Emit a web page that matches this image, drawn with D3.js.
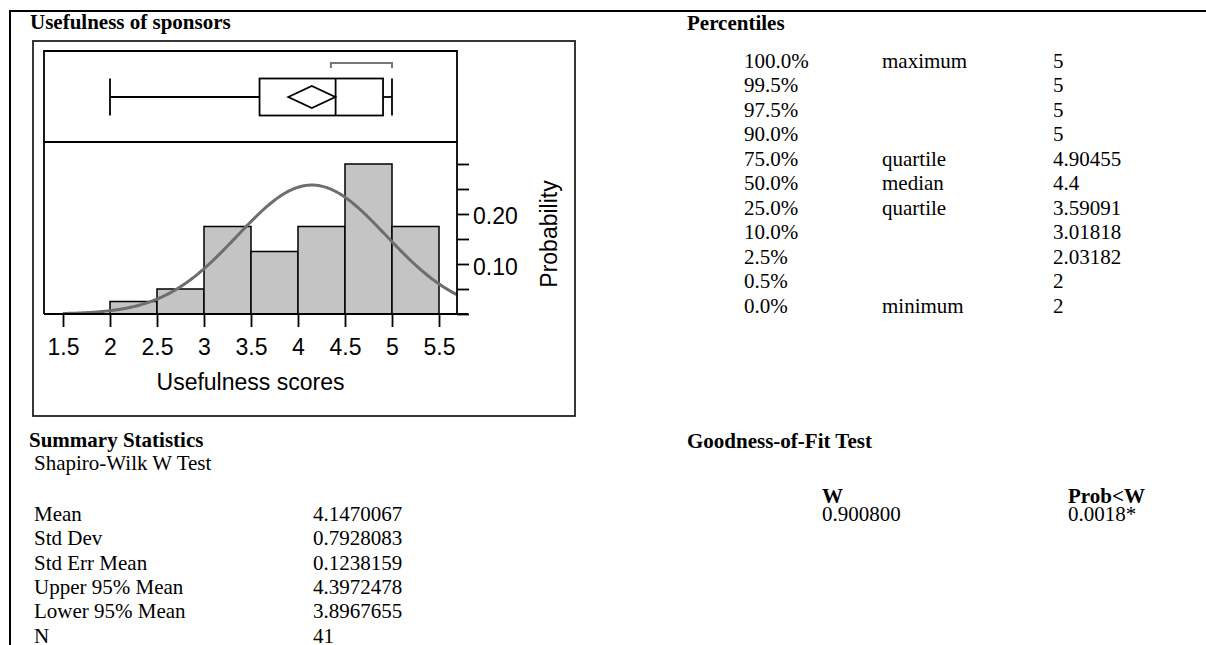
<!DOCTYPE html>
<html>
<head>
<meta charset="utf-8">
<script src="https://cdnjs.cloudflare.com/ajax/libs/d3/7.8.5/d3.min.js"></script>
<style>
  body { margin: 0; background: #fff; }
  .serif { font-family: "Liberation Serif", "Times New Roman", serif; font-size: 21px; fill: #000; }
  .bold { font-weight: bold; }
  .sans { font-family: "Liberation Sans", Arial, sans-serif; font-size: 23px; fill: #000; }
</style>
</head>
<body>
<script>
// histogram bins (lower edges) and counts
var binEdges = [2, 2.5, 3, 3.5, 4, 4.5, 5];
var binWidth = 0.5;
var counts = [1, 2, 7, 5, 7, 12, 7];
var n = 41;

// box plot summary
var whiskerLo = 2, whiskerHi = 5;
var q1 = 3.59091, median = 4.4, q3 = 4.90455;
var mean = 4.1470067, sd = 0.7928083;
var ciLo = 3.8967655, ciHi = 4.3972478;
var shortestHalf = [4.35, 5];

// axis ticks
var xTicks = [1.5, 2, 2.5, 3, 3.5, 4, 4.5, 5, 5.5];
var countTicks = [0, 2, 4, 6, 8, 10, 12];
var probLabels = [0.10, 0.20];

// tables
var pctLevels = ["100.0%", "99.5%", "97.5%", "90.0%", "75.0%", "50.0%", "25.0%", "10.0%", "2.5%", "0.5%", "0.0%"];
var pctNames = ["maximum", "", "", "", "quartile", "median", "quartile", "", "", "", "minimum"];
var pctValues = ["5", "5", "5", "5", "4.90455", "4.4", "3.59091", "3.01818", "2.03182", "2", "2"];
var statNames = ["Mean", "Std Dev", "Std Err Mean", "Upper 95% Mean", "Lower 95% Mean", "N"];
var statValues = ["4.1470067", "0.7928083", "0.1238159", "4.3972478", "3.8967655", "41"];
var gofHeaders = ["W", "Prob<W"];
var gofValues = ["0.900800", "0.0018*"];

var width = 1206, height = 645;

var svg = d3.select("body").append("svg")
  .attr("width", width)
  .attr("height", height);

// page rules
svg.append("line").attr("x1", 10).attr("x2", width).attr("y1", 11).attr("y2", 11)
  .attr("stroke", "#000").attr("stroke-width", 2);
svg.append("line").attr("x1", 10).attr("x2", 10).attr("y1", 10).attr("y2", height)
  .attr("stroke", "#000").attr("stroke-width", 2);

// plot geometry
var pLeft = 44, pRight = 457, pTop = 51, pMid = 142, pBottom = 314;

var x = d3.scaleLinear().domain([2, 5.5]).range([110, 439]);
var y = d3.scaleLinear().domain([0, 12 / n]).range([pBottom, 164]);

svg.append("text").attr("class", "serif bold").attr("x", 30).attr("y", 29).text("Usefulness of sponsors");

// outer frame
svg.append("rect").attr("x", 33).attr("y", 41).attr("width", 542).attr("height", 375)
  .attr("fill", "none").attr("stroke", "#222").attr("stroke-width", 1.8);

// histogram bars
svg.append("g").selectAll("rect")
  .data(binEdges)
  .enter().append("rect")
  .attr("x", function (d) { return x(d); })
  .attr("width", function (d) { return x(d + binWidth) - x(d); })
  .attr("y", function (d, i) { return y(counts[i] / n); })
  .attr("height", function (d, i) { return pBottom - y(counts[i] / n); })
  .attr("fill", "#c4c4c4")
  .attr("stroke", "#000")
  .attr("stroke-width", 1.5);

// fitted normal curve
var xs = d3.range(1.5, 5.69, 0.01);
var line = d3.line()
  .x(function (d) { return x(d); })
  .y(function (d) {
    var z = (d - mean) / sd;
    return y(binWidth * Math.exp(-0.5 * z * z) / (sd * Math.sqrt(2 * Math.PI)));
  });
svg.append("path").datum(xs)
  .attr("d", line)
  .attr("fill", "none")
  .attr("stroke", "#6e6e6e")
  .attr("stroke-width", 3);

// inner frame
svg.append("path")
  .attr("d", "M" + pLeft + "," + pBottom + "V" + pTop + "H" + pRight + "V" + pBottom)
  .attr("fill", "none").attr("stroke", "#000").attr("stroke-width", 1.8);
svg.append("line").attr("x1", pLeft).attr("x2", pRight).attr("y1", pMid).attr("y2", pMid)
  .attr("stroke", "#000").attr("stroke-width", 1.8);

// x axis
var xAxis = svg.append("g")
  .attr("transform", "translate(0," + pBottom + ")")
  .call(d3.axisBottom(x).tickValues(xTicks).tickSize(13).tickPadding(12)
    .tickFormat(function (d) { return String(d); }));
xAxis.select(".domain").remove();
xAxis.selectAll(".tick line").attr("stroke", "#000").attr("stroke-width", 1.8);
xAxis.selectAll(".tick text").attr("class", "sans").attr("font-family", null).attr("font-size", null)
  .attr("dy", "0.71em");
svg.append("line").attr("x1", pLeft).attr("x2", pRight + 11).attr("y1", pBottom).attr("y2", pBottom)
  .attr("stroke", "#000").attr("stroke-width", 1.8);

svg.append("text").attr("class", "sans").attr("x", (pLeft + pRight) / 2).attr("y", 390)
  .attr("text-anchor", "middle").text("Usefulness scores");

// y axis ticks (every 2 counts) and probability labels
var yAxis = svg.append("g")
  .attr("transform", "translate(" + pRight + ",0)")
  .call(d3.axisRight(y).tickValues(countTicks.map(function (c) { return c / n; }))
    .tickSize(12).tickFormat(""));
yAxis.select(".domain").remove();
yAxis.selectAll(".tick line").attr("stroke", "#000").attr("stroke-width", 1.8);

var yLab = svg.append("g")
  .attr("transform", "translate(" + pRight + ",0)")
  .call(d3.axisRight(y).tickValues(probLabels).tickSize(0).tickPadding(16)
    .tickFormat(d3.format(".2f")));
yLab.select(".domain").remove();
yLab.selectAll(".tick text").attr("class", "sans").attr("font-family", null).attr("font-size", null)
  .attr("dy", "0.5em");

svg.append("text").attr("class", "sans")
  .attr("transform", "translate(557," + 234 + ") rotate(-90)")
  .attr("text-anchor", "middle").text("Probability");

// box plot
var by = 97, bh = 18.5;
var box = svg.append("g").attr("stroke", "#000").attr("stroke-width", 1.8).attr("fill", "none");
box.append("line").attr("x1", x(whiskerLo)).attr("x2", x(q1)).attr("y1", by).attr("y2", by);
box.append("line").attr("x1", x(q3)).attr("x2", x(whiskerHi)).attr("y1", by).attr("y2", by);
box.append("line").attr("x1", x(whiskerLo)).attr("x2", x(whiskerLo)).attr("y1", by - bh).attr("y2", by + bh);
box.append("line").attr("x1", x(whiskerHi)).attr("x2", x(whiskerHi)).attr("y1", by - bh).attr("y2", by + bh);
box.append("rect").attr("x", x(q1)).attr("y", by - bh).attr("width", x(q3) - x(q1)).attr("height", 2 * bh);
box.append("line").attr("x1", x(median)).attr("x2", x(median)).attr("y1", by - bh).attr("y2", by + bh);
box.append("path")
  .attr("d", "M" + x(ciLo) + "," + by + "L" + x(mean) + "," + (by - 11) + "L" + x(ciHi) + "," + by +
    "L" + x(mean) + "," + (by + 11) + "Z");

// shortest half bracket
svg.append("path")
  .attr("d", "M" + x(shortestHalf[0]) + ",68V63H" + x(shortestHalf[1]) + "V68")
  .attr("fill", "none").attr("stroke", "#777").attr("stroke-width", 2);

// Percentiles table
svg.append("text").attr("class", "serif bold").attr("x", 687).attr("y", 30).text("Percentiles");
var rowH = 24.45;
var pct = svg.append("g").attr("class", "serif");
pctLevels.forEach(function (d, i) {
  var yy = 68 + i * rowH;
  pct.append("text").attr("x", 744).attr("y", yy).text(d);
  if (pctNames[i]) pct.append("text").attr("x", 882).attr("y", yy).text(pctNames[i]);
  pct.append("text").attr("x", 1053).attr("y", yy).text(pctValues[i]);
});

// Summary statistics
svg.append("text").attr("class", "serif bold").attr("x", 29).attr("y", 447).text("Summary Statistics");
svg.append("text").attr("class", "serif").attr("x", 34).attr("y", 470).text("Shapiro-Wilk W Test");
var st = svg.append("g").attr("class", "serif");
statNames.forEach(function (d, i) {
  var yy = 521 + i * 24.3;
  st.append("text").attr("x", 34).attr("y", yy).text(d);
  st.append("text").attr("x", 313).attr("y", yy).text(statValues[i]);
});

// Goodness-of-fit
svg.append("text").attr("class", "serif bold").attr("x", 687).attr("y", 448).text("Goodness-of-Fit Test");
var gofX = [822, 1068];
gofHeaders.forEach(function (d, i) {
  svg.append("text").attr("class", "serif bold").attr("x", gofX[i]).attr("y", 503).text(d);
  svg.append("text").attr("class", "serif").attr("x", gofX[i]).attr("y", 521).text(gofValues[i]);
});
</script>
</body>
</html>
